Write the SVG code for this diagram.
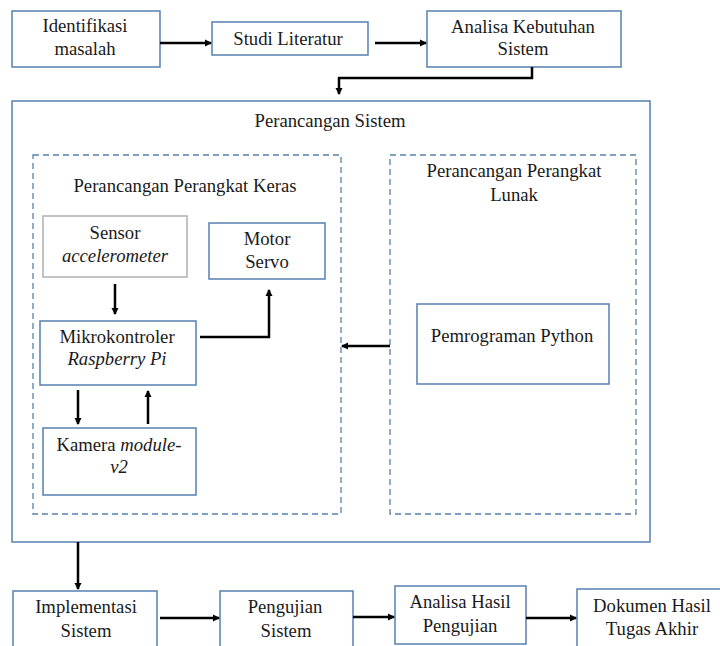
<svg xmlns="http://www.w3.org/2000/svg" width="720" height="646" viewBox="0 0 720 646">
<defs>
<marker id="ah" markerWidth="8" markerHeight="8" refX="6" refY="4" orient="auto" markerUnits="userSpaceOnUse">
<path d="M0,0.5 L7,4 L0,7.5 Z" fill="#000"/>
</marker>
<style>
.b{fill:#fff;stroke:#5580b0;stroke-width:1.5}
.g{fill:#fff;stroke:#b0b0b0;stroke-width:1.5}
.d{fill:none;stroke:#5580b0;stroke-width:1.3;stroke-dasharray:6,4}
.c{fill:none;stroke:#000;stroke-width:2.5;marker-end:url(#ah)}
text{font-family:"Liberation Serif","Times New Roman",serif;font-size:18.7px;fill:#1a1a1a;text-anchor:middle}
.i{font-style:italic}
</style>
</defs>
<rect width="720" height="646" fill="#fff"/>
<g id="identifikasi"><rect class="b" x="12" y="11" width="148" height="56"/><text x="85" y="32">Identifikasi</text><text x="85" y="55">masalah</text></g>
<g id="studi"><rect class="b" x="212" y="22" width="156" height="33"/><text x="288" y="45">Studi Literatur</text></g>
<g id="analisa-kebutuhan"><rect class="b" x="427" y="11" width="194" height="56"/><text x="523" y="33">Analisa Kebutuhan</text><text x="523" y="55">Sistem</text></g>
<g id="perancangan-sistem"><rect class="b" x="12" y="101" width="638" height="441"/><text x="330" y="127">Perancangan Sistem</text></g>
<g id="perangkat-keras"><rect class="d" x="33" y="155" width="308" height="359"/><text x="185" y="192">Perancangan Perangkat Keras</text></g>
<g id="perangkat-lunak"><rect class="d" x="390" y="155" width="246" height="359"/><text x="514" y="177">Perancangan Perangkat</text><text x="514" y="201">Lunak</text></g>
<g id="sensor"><rect class="g" x="43" y="216" width="144" height="61"/><text x="115" y="239">Sensor</text><text class="i" x="115" y="262">accelerometer</text></g>
<g id="motor"><rect class="b" x="209" y="223" width="116" height="56"/><text x="267" y="245">Motor</text><text x="267" y="268">Servo</text></g>
<g id="mikrokontroler"><rect class="b" x="40" y="321" width="156" height="64"/><text x="117" y="343">Mikrokontroler</text><text class="i" x="117" y="365">Raspberry Pi</text></g>
<g id="kamera"><rect class="b" x="43" y="428" width="153" height="67"/><text x="119" y="451"><tspan>Kamera </tspan><tspan class="i">module-</tspan></text><text class="i" x="119" y="473">v2</text></g>
<g id="python"><rect class="b" x="417" y="304" width="192" height="80"/><text x="512" y="342">Pemrograman Python</text></g>
<g id="implementasi"><rect class="b" x="13" y="591" width="144" height="58"/><text x="86" y="613">Implementasi</text><text x="86" y="637">Sistem</text></g>
<g id="pengujian"><rect class="b" x="220" y="591" width="133" height="58"/><text x="285" y="613">Pengujian</text><text x="286" y="637">Sistem</text></g>
<g id="analisa-hasil"><rect class="b" x="395" y="586" width="131" height="58"/><text x="460" y="608">Analisa Hasil</text><text x="460" y="632">Pengujian</text></g>
<g id="dokumen"><rect class="b" x="577" y="589" width="150" height="58"/><text x="652" y="612">Dokumen Hasil</text><text x="652" y="635">Tugas Akhir</text></g>
<g id="connectors">
<path class="c" d="M160,43 H211"/>
<path class="c" d="M375,43 H426"/>
<path class="c" d="M532,67 V78 H339 V94"/>
<path class="c" d="M115,284 V314"/>
<path class="c" d="M200,337 H269 V290"/>
<path class="c" d="M78,390 V424"/>
<path class="c" d="M148,424 V391"/>
<path class="c" d="M390,346 H342"/>
<path class="c" d="M78,542 V589"/>
<path class="c" d="M160,618 H219"/>
<path class="c" d="M353,617 H394"/>
<path class="c" d="M526,618 H576"/>
</g>
</svg>
